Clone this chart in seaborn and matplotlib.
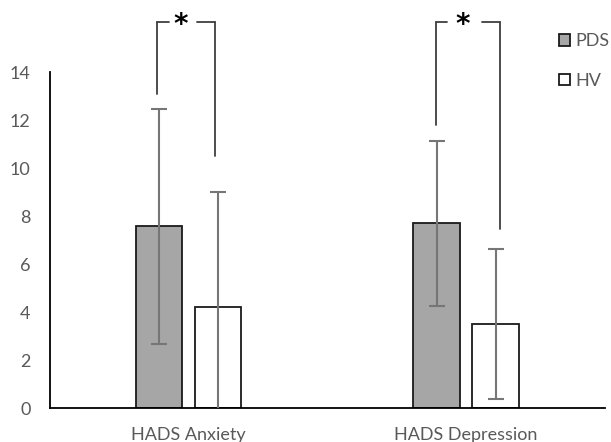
import pandas as pd
import numpy as np
import seaborn as sns
import matplotlib
matplotlib.use("Agg")
import matplotlib.pyplot as plt
from matplotlib.patches import Patch

# values
categories = ["HADS Anxiety", "HADS Depression"]
groups = ["PDS", "HV"]
pds_mean = [7.57, 7.69]
pds_sd = [4.9, 3.43]
hv_mean = [4.19, 3.5]
hv_sd = [4.8, 3.13]

# significance brackets: (category, left x offset, right x offset, top, left end, right end)
brackets = [
    (0, -0.114, 0.095, 16.1, 13.1, 10.5),
    (1, -0.109, 0.122, 16.1, 11.8, 7.45),
]

df = pd.DataFrame({
    "category": categories * 2,
    "group": ["PDS"] * 2 + ["HV"] * 2,
    "mean": pds_mean + hv_mean,
    "sd": pds_sd + hv_sd,
})

sns.set_style("white")
plt.rcParams["font.family"] = ["Lato", "DejaVu Sans"]

fig = plt.figure(figsize=(6.11, 4.42), dpi=100)
ax = fig.add_axes([0.0818, 0.0769, 0.908, 0.760])

sns.barplot(data=df, x="category", y="mean", hue="group", hue_order=groups,
            palette={"PDS": "#a6a6a6", "HV": "#ffffff"}, width=0.425, gap=0.21,
            edgecolor="#1a1a1a", linewidth=1.3, errorbar=None, legend=False, ax=ax)

# error bars through each bar
for cont, g in zip(ax.containers, groups):
    sub = df[df.group == g]
    xs = [p.get_x() + p.get_width() / 2 for p in cont.patches]
    ax.errorbar(xs, sub["mean"], yerr=sub["sd"], fmt="none", ecolor="#767676",
                elinewidth=1.5, capsize=6, capthick=1.5, zorder=5)

# significance brackets
for cat, xl, xr, top, yl, yr in brackets:
    c = "#3f3f3f"
    ax.plot([cat + xl, cat + xl], [yl, top], color=c, lw=1.3, clip_on=False)
    ax.plot([cat + xr, cat + xr], [yr, top], color=c, lw=1.3, clip_on=False)
    ax.plot([cat + xl, cat + xl + 0.042], [top, top], color=c, lw=1.3, clip_on=False)
    ax.plot([cat + xr - 0.065, cat + xr], [top, top], color=c, lw=1.3, clip_on=False)
    ax.text(cat + (xl + xr) / 2 - 0.018, top - 0.15, "*", ha="center", va="center",
            fontsize=20, fontweight="bold", color="#000000", family="DejaVu Sans")

ax.set_xlim(-0.5, 1.5)
ax.set_ylim(0, 14)
ax.set_yticks(range(0, 15, 2))
ax.set_xlabel("")
ax.set_ylabel("")
ax.tick_params(axis="both", length=0, labelsize=13, labelcolor="#595959")
ax.tick_params(axis="y", pad=14)
ax.tick_params(axis="x", pad=14)
sns.despine(ax=ax, top=True, right=True)
for s in ["left", "bottom"]:
    ax.spines[s].set_color("#000000")
    ax.spines[s].set_linewidth(1.3)

handles = [Patch(facecolor="#a6a6a6", edgecolor="#1a1a1a", linewidth=1.3, label="PDS"),
           Patch(facecolor="#ffffff", edgecolor="#1a1a1a", linewidth=1.3, label="HV")]
fig.legend(handles=handles, loc="upper left", bbox_to_anchor=(0.9, 0.945),
           frameon=False, fontsize=13, labelcolor="#595959", handlelength=0.6,
           handleheight=0.6, handletextpad=0.3, labelspacing=1.3, borderpad=0)

fig.savefig("out.png", dpi=100)
